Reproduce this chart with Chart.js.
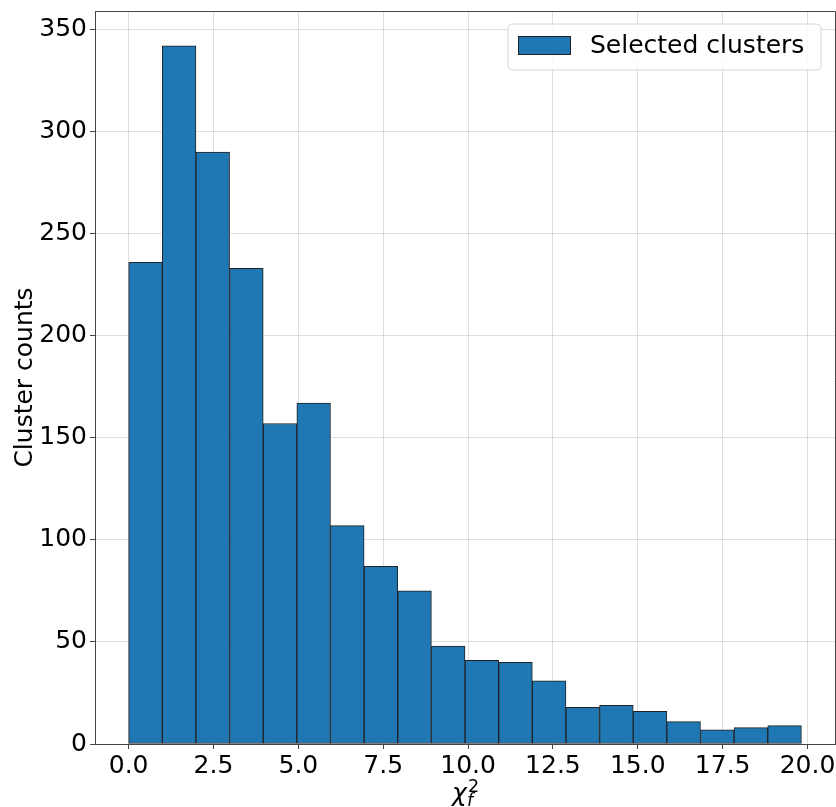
<!DOCTYPE html>
<html><head><meta charset="utf-8">
<script src="https://cdn.jsdelivr.net/npm/chart.js@4"></script>
<style>html,body{margin:0;padding:0;background:#fff}#wrap{width:836px;height:807px;position:relative}</style>
</head><body><div id="wrap"><canvas id="c"></canvas></div>
<script>
const binCenters = [0.496, 1.487, 2.478, 3.469, 4.460, 5.451, 6.442, 7.433, 8.424, 9.415,
                    10.406, 11.397, 12.388, 13.379, 14.370, 15.361, 16.352, 17.343, 18.334, 19.325];
const clusterCounts = [236, 342, 290, 233, 157, 167, 107, 87, 75, 48,
                       41, 40, 31, 18, 19, 16, 11, 7, 8, 9];
const xTickValues = [0, 2.5, 5, 7.5, 10, 12.5, 15, 17.5, 20];
const yTickValues = [0, 50, 100, 150, 200, 250, 300, 350];
const seriesLabel = 'Selected clusters';
const yTitle = 'Cluster counts';
const xRange = [-0.991, 20.81];
const yRange = [0, 359.1];

const FONT = 'DejaVu Sans';
const BAR = '#1f77b4';
const EDGE = '#222222';
const GRID = 'rgba(176,176,176,0.4)';
const SPINE = '#444444';

const decor = {
  id: 'decor',
  afterDraw(chart) {
    const ctx = chart.ctx, a = chart.chartArea;
    ctx.save();
    // top & right spines
    ctx.strokeStyle = SPINE; ctx.lineWidth = 1;
    ctx.beginPath();
    ctx.moveTo(a.left, a.top + 0.5); ctx.lineTo(a.right + 0.5, a.top + 0.5); ctx.lineTo(a.right + 0.5, a.bottom);
    ctx.stroke();
    // legend
    const lx = 508, ly = 24, lw = 313, lh = 46, r = 5;
    ctx.beginPath();
    ctx.moveTo(lx + r, ly); ctx.lineTo(lx + lw - r, ly); ctx.quadraticCurveTo(lx + lw, ly, lx + lw, ly + r);
    ctx.lineTo(lx + lw, ly + lh - r); ctx.quadraticCurveTo(lx + lw, ly + lh, lx + lw - r, ly + lh);
    ctx.lineTo(lx + r, ly + lh); ctx.quadraticCurveTo(lx, ly + lh, lx, ly + lh - r);
    ctx.lineTo(lx, ly + r); ctx.quadraticCurveTo(lx, ly, lx + r, ly);
    ctx.closePath();
    ctx.fillStyle = 'rgba(255,255,255,0.8)'; ctx.fill();
    ctx.strokeStyle = '#d6d6d6'; ctx.stroke();
    ctx.fillStyle = BAR; ctx.fillRect(518.5, 36.5, 52, 18);
    ctx.strokeStyle = EDGE; ctx.strokeRect(518.5, 36.5, 52, 18);
    ctx.fillStyle = '#000'; ctx.font = '25px "' + FONT + '"';
    ctx.textBaseline = 'middle'; ctx.textAlign = 'left';
    ctx.fillText(seriesLabel, 590, 46);
    // y title
    ctx.save();
    ctx.translate(32, (a.top + a.bottom) / 2);
    ctx.rotate(-Math.PI / 2);
    ctx.textAlign = 'center'; ctx.textBaseline = 'alphabetic';
    ctx.fillText(yTitle, 0, 0);
    ctx.restore();
    // x title: chi^2_f
    const cx = (a.left + a.right) / 2;
    ctx.textAlign = 'left'; ctx.textBaseline = 'alphabetic';
    ctx.font = 'italic 25px "' + FONT + '"';
    ctx.fillText('\u03c7', cx - 13, 801);
    ctx.font = '17.5px "' + FONT + '"';
    ctx.fillText('2', cx + 3, 792);
    ctx.font = 'italic 17.5px "' + FONT + '"';
    ctx.fillText('f', cx + 2, 806);
    ctx.restore();
  }
};

new Chart(document.getElementById('c'), {
  type: 'bar',
  data: {
    datasets: [{
      label: seriesLabel,
      data: binCenters.map((x, i) => ({ x: x, y: clusterCounts[i] })),
      backgroundColor: BAR,
      borderColor: EDGE,
      borderWidth: 1,
      borderSkipped: false,
      barPercentage: 1,
      categoryPercentage: 1
    }]
  },
  options: {
    responsive: true,
    maintainAspectRatio: false,
    animation: false,
    layout: { padding: { top: 11, right: 1, left: 0, bottom: 0 } },
    plugins: { legend: { display: false }, tooltip: { enabled: false } },
    scales: {
      x: {
        type: 'linear', min: xRange[0], max: xRange[1], offset: false, z: 1,
        afterBuildTicks: s => { s.ticks = xTickValues.map(v => ({ value: v })); },
        afterFit: s => { s.height = 63; s.paddingLeft = 0; s.paddingRight = 0; },
        grid: { color: GRID, offset: false, tickColor: SPINE, tickLength: 5, lineWidth: 1 },
        border: { display: true, color: SPINE, width: 1 },
        ticks: { color: '#000', font: { family: FONT, size: 25 }, padding: 2, maxRotation: 0, autoSkip: false,
                 callback: v => v.toFixed(1) }
      },
      y: {
        type: 'linear', min: yRange[0], max: yRange[1], z: 1,
        afterBuildTicks: s => { s.ticks = yTickValues.map(v => ({ value: v })); },
        afterFit: s => { s.width = 95; s.paddingTop = 0; s.paddingBottom = 0; },
        grid: { color: GRID, tickColor: SPINE, tickLength: 5, lineWidth: 1 },
        border: { display: true, color: SPINE, width: 1 },
        ticks: { color: '#000', font: { family: FONT, size: 25 }, padding: 3, autoSkip: false,
                 callback: v => String(v) }
      }
    }
  },
  plugins: [decor]
});
</script></body></html>
